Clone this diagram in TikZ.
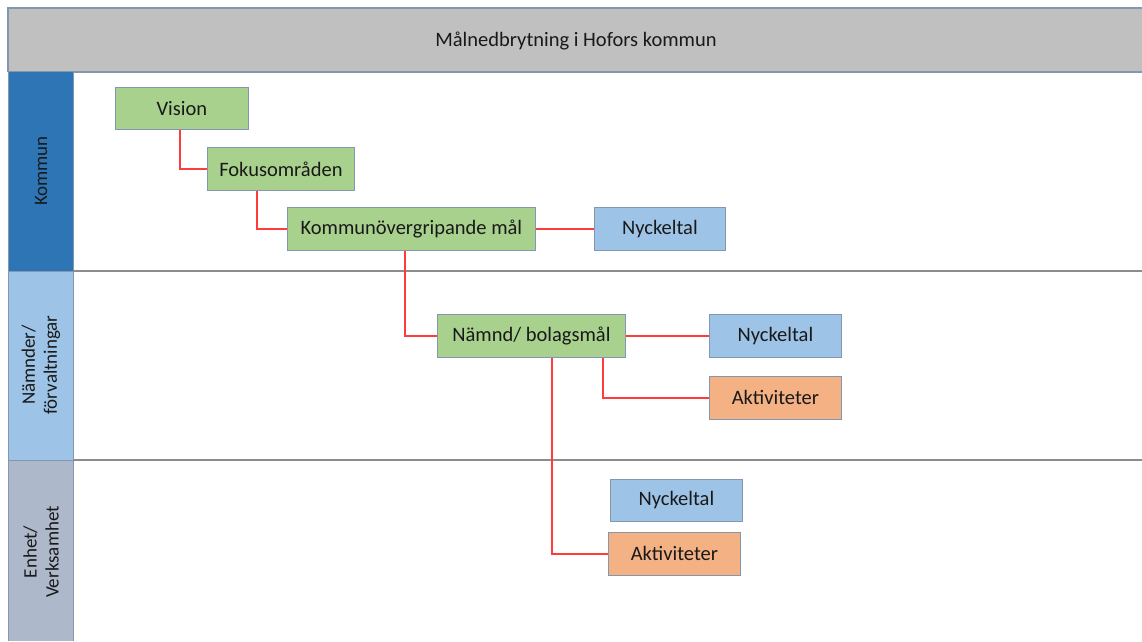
\documentclass[tikz,border=0pt]{standalone}
\usepackage{fontspec}
\setmainfont{Carlito}
\definecolor{grn}{HTML}{A9D18E}
\definecolor{blu}{HTML}{9DC3E6}
\definecolor{org}{HTML}{F4B183}
\definecolor{edge}{HTML}{8497B0}
\definecolor{hdr}{HTML}{C0C0C0}
\definecolor{lane1}{HTML}{2E75B6}
\definecolor{lane2}{HTML}{9DC3E6}
\definecolor{lane3}{HTML}{ADB9CA}
\definecolor{conn}{HTML}{FF3B3B}
\tikzset{
  box/.style={draw=edge, line width=0.8pt, minimum height=43pt, inner sep=0pt, font=\fontsize{20.5}{24}\selectfont, text=black!90},
  gbox/.style={box, fill=grn},
  bbox/.style={box, fill=blu},
  obox/.style={box, fill=org},
  link/.style={draw=conn, line width=1.4pt},
  lanelabel/.style={rotate=90, align=center, font=\fontsize{19}{22}\selectfont, text=black!90}
}
\begin{document}
\begin{tikzpicture}[x=1pt,y=-1pt]
\useasboundingbox (0,0) rectangle (1142,641);
% header
\fill[hdr] (8,8) rectangle (1142,72);
\draw[edge, line width=1.2pt] (8,72) -- (8,8) -- (1142,8);
\draw[edge, line width=1.2pt] (8,72) -- (1142,72);
\node[font=\fontsize{20.5}{24}\selectfont, text=black!90] (title) at (576,41) {Målnedbrytning i Hofors kommun};
% lanes
\fill[lane1] (8,72) rectangle (73,271);
\fill[lane2] (8,271) rectangle (73,460);
\fill[lane3] (8,460) rectangle (73,641);
\draw[edge, line width=0.8pt] (8,72) -- (8,641) (73,72) -- (73,641) (8,271) -- (73,271) (8,460) -- (73,460);
\draw[black!45, line width=1.2pt] (73,271) -- (1142,271) (73,460) -- (1142,460);
\node[lanelabel] (l1) at (41,171) {Kommun};
\node[lanelabel] (l2) at (41,365) {Nämnder/\\förvaltningar};
\node[lanelabel] (l3) at (41,552) {Enhet/\\Verksamhet};
% boxes
\node[gbox, minimum width=133pt, anchor=north west, minimum height=42pt] (vision) at (115,87) {Vision};
\node[gbox, minimum width=147pt, anchor=north west] (fokus) at (207,147) {Fokusområden};
\node[gbox, minimum width=248pt, anchor=north west] (komm) at (287,207) {Kommunövergripande mål};
\node[bbox, minimum width=131pt, anchor=north west] (ny1) at (594,207) {Nyckeltal};
\node[gbox, minimum width=188pt, anchor=north west] (namnd) at (437,314) {Nämnd/ bolagsmål};
\node[bbox, minimum width=132pt, anchor=north west] (ny2) at (709,314) {Nyckeltal};
\node[obox, minimum width=132pt, anchor=north west] (akt1) at (709,376) {Aktiviteter};
\node[bbox, minimum width=132pt, anchor=north west, minimum height=42pt] (ny3) at (610,479) {Nyckeltal};
\node[obox, minimum width=132pt, anchor=north west] (akt2) at (608,532) {Aktiviteter};
% connectors
\draw[link] (vision.south -| 180,0) |- (fokus.west);
\draw[link] (fokus.south -| 257,0) |- (komm.west);
\draw[link] (komm.east) -- (ny1.west);
\draw[link] (komm.south -| 405,0) |- (namnd.west);
\draw[link] (namnd.east) -- (ny2.west);
\draw[link] (namnd.south -| 603,0) |- (akt1.west);
\draw[link] (namnd.south -| 552,0) |- (akt2.west);
\end{tikzpicture}
\end{document}
